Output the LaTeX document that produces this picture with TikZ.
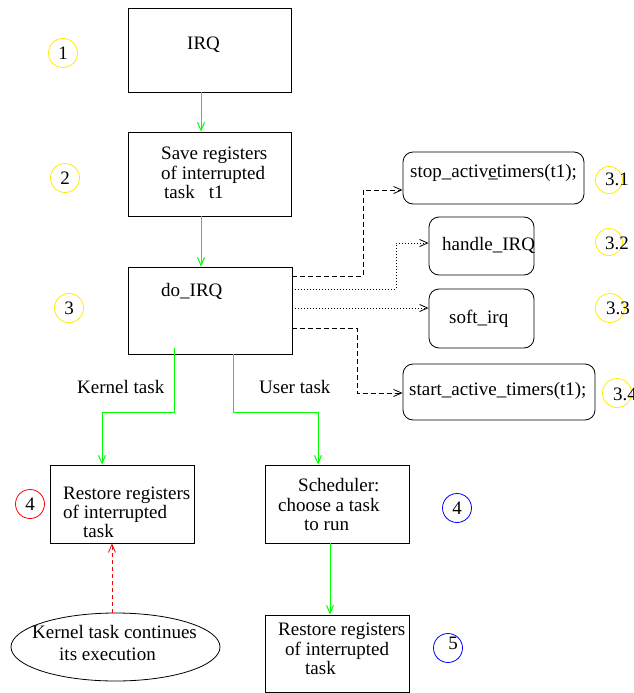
\documentclass[tikz,border=0pt]{standalone}
\usepackage{fontspec}
\setmainfont{Liberation Serif}
\usetikzlibrary{arrows.meta,shapes.geometric}
\definecolor{ygreen}{RGB}{0,255,0}
\definecolor{cyel}{RGB}{255,235,0}
\begin{document}
\begin{tikzpicture}[x=1pt,y=-1pt,
  every node/.style={font=\fontsize{19}{23}\selectfont},
  box/.style={draw, line width=0.8pt, rectangle, inner sep=0pt},
  rbox/.style={draw, line width=0.8pt, rectangle, rounded corners=10pt, inner sep=0pt},
  txt/.style={anchor=base west, inner sep=0pt},
  ctxt/.style={anchor=base, inner sep=0pt},
  num/.style={draw, circle, line width=0.8pt, inner sep=0pt, minimum size=29pt},
  tip/.style={-{Straight Barb[length=8pt,width=7pt]}},
  garrow/.style={tip, draw=ygreen, line width=1pt},
  dsh/.style={tip, line width=0.8pt, dash pattern=on 5pt off 3pt},
  dts/.style={tip, line width=0.8pt, dash pattern=on 1pt off 2pt}]
\useasboundingbox (0,0) rectangle (633,693);

% main boxes
\node[box, minimum width=163pt, minimum height=84pt] (irq) at (209.5,50) {};
\node[box, minimum width=163pt, minimum height=84pt] (save) at (209.5,174) {};
\node[box, minimum width=164pt, minimum height=87pt] (doirq) at (210,310.5) {};
\node[box, minimum width=144pt, minimum height=78pt] (lrest) at (122,504) {};
\node[box, minimum width=144pt, minimum height=78pt] (sched) at (337,504) {};
\node[box, minimum width=144pt, minimum height=77pt] (brest) at (337,653.5) {};
\node[draw, ellipse, line width=0.8pt, minimum width=209pt, minimum height=68pt, inner sep=0pt] (ell) at (115.5,647) {};

% rounded boxes
\node[rbox, minimum width=181pt, minimum height=52pt] (stop) at (493.5,178) {};
\node[rbox, minimum width=105pt, minimum height=58pt] (handle) at (481.5,246) {};
\node[rbox, minimum width=105pt, minimum height=59pt] (soft) at (481.5,318.5) {};
\node[rbox, minimum width=192pt, minimum height=56pt] (start) at (499,392) {};

% texts
\node[txt] (tirq) at (187,49) {IRQ};
\node[txt] (tsa) at (161,159) {Save registers};
\node[txt] (tsb) at (161,179) {of interrupted};
\node[txt] (tsc) at (164,198) {task\hspace{14pt}t1};
\node[txt] (tdo) at (161,296) {do\_IRQ};
\node[txt] (tla) at (63,499) {Restore registers};
\node[txt] (tlb) at (63,518) {of interrupted};
\node[txt] (tlc) at (83,537) {task};
\node[txt] (tca) at (298,491) {Scheduler:};
\node[txt] (tcb) at (278,511) {choose a task};
\node[txt] (tcc) at (304,530) {to run};
\node[txt] (tba) at (278,635) {Restore registers};
\node[txt] (tbb) at (285,655) {of interrupted};
\node[txt] (tbc) at (305,674) {task};
\node[txt] (tea) at (32,638) {Kernel task continues};
\node[txt] (teb) at (59,660) {its execution};
\node[txt] (tkt) at (77,393) {Kernel task};
\node[txt] (tut) at (259,393) {User task};
\node[txt] (tst) at (410,177) {stop\_activ\rlap{\_}etimers(t1);};
\node[txt] (tha) at (442,250) {handle\_IRQ};
\node[txt] (tso) at (449,323) {soft\_irq};
\node[txt] (tsr) at (409,395) {start\_active\_timers(t1);};

% numbered circles
\node[num, draw=cyel] (c1) at (63,53) {1};
\node[num, draw=cyel] (c2) at (65,178) {2};
\node[num, draw=cyel] (c3) at (69,308) {3};
\node[num, draw=red] (c4r) at (30,504) {4};
\node[num, draw=blue] (c4b) at (457,508) {4};
\node[num, draw=blue] (c5) at (448,648) {};
\node[ctxt] (t5) at (453,649) {5};
\node[num, draw=cyel, minimum size=27pt] (c31) at (609,180) {};
\node[num, draw=cyel, minimum size=27pt] (c32) at (609,242) {};
\node[num, draw=cyel] (c33) at (610,308) {};
\node[num, draw=cyel] (c34) at (617,393) {};
\node[txt] (t31) at (605,185) {3.1};
\node[txt] (t32) at (605,249) {3.2};
\node[txt] (t33) at (606,314) {3.3};
\node[txt] (t34) at (613,400) {3.4};

% green arrows
\draw[garrow] ([xshift=-8.5pt]irq.south) -- ([xshift=-8.5pt]save.north);
\draw[garrow] ([xshift=-8.5pt]save.south) -- ([xshift=-9pt]doirq.north);
\draw[garrow] ([xshift=-36pt,yshift=6pt]doirq.south) -- ++(0,64) -| ([xshift=-20pt]lrest.north);
\draw[garrow] ([xshift=23pt]doirq.south) -- ++(0,58) -| ([xshift=-19pt]sched.north);
\draw[garrow] ([xshift=-7pt]sched.south) -- ([xshift=-7pt]brest.north);

% red dashed
\draw[tip, draw=red, line width=0.8pt, dash pattern=on 4pt off 3pt] ([xshift=-3.5pt]ell.north) -- ([xshift=-10pt]lrest.south);

% right connectors
\draw[dsh] ([yshift=34.5pt]doirq.east) -- ++(71,0) |- ([yshift=-12pt]stop.west);
\draw[dts] ([yshift=21.5pt]doirq.east) -- ++(104,0) |- ([yshift=3pt]handle.west);
\draw[dts] ([yshift=2.5pt]doirq.east) -- ([yshift=10.5pt]soft.west);
\draw[dsh] ([yshift=-17.5pt]doirq.east) -- ++(65,0) |- ([yshift=-1pt]start.west);
\end{tikzpicture}
\end{document}
